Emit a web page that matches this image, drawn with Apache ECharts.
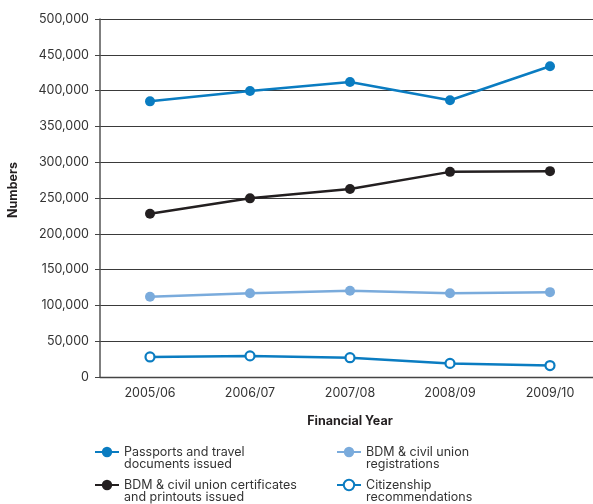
<!DOCTYPE html>
<html>
<head>
<meta charset="utf-8">
<script src="https://cdn.jsdelivr.net/npm/echarts@6/dist/echarts.min.js"></script>
<style>
html,body{margin:0;padding:0;background:#fff;}
#chart{width:593px;height:504px;}
</style>
</head>
<body>
<div id="chart"></div>
<script>
var categories = ['2005/06', '2006/07', '2007/08', '2008/09', '2009/10'];
var passports = [385000, 399500, 412000, 386500, 434000];
var bdmCertificates = [228000, 249500, 262500, 286500, 287500];
var bdmRegistrations = [112000, 117000, 120500, 117000, 118500];
var citizenship = [28000, 29500, 27000, 19000, 16000];
var yTicks = [0, 50000, 100000, 150000, 200000, 250000, 300000, 350000, 400000, 450000, 500000];

var names = {
  passports: 'Passports and travel\ndocuments issued',
  certs: 'BDM & civil union certificates\nand printouts issued',
  regs: 'BDM & civil union\nregistrations',
  cit: 'Citizenship\nrecommendations'
};
var FONT = 'Inter';
var blue = '#0a7cc1';
var light = '#7aabdc';
var black = '#231f20';

var chart = echarts.init(document.getElementById('chart'));
var legendText = {fontFamily: FONT, fontSize: 12.5, color: '#333', lineHeight: 12};
function legendAt(name, left, top) {
  return {data: [name], left: left, top: top, padding: 0, itemWidth: 24, itemHeight: 13,
          itemGap: 0, textStyle: legendText,
          formatter: function (n) { return '\n' + n; }};
}
chart.setOption({
  animation: false,
  textStyle: {fontFamily: FONT},
  grid: {left: 100, right: -7, top: 19, bottom: 127, containLabel: false, outerBoundsMode: 'none'},
  legend: [
    legendAt(names.passports, 94, 433.5),
    legendAt(names.certs, 94, 466.5),
    legendAt(names.regs, 336, 433.5),
    legendAt(names.cit, 336, 466.5)
  ],
  xAxis: {
    type: 'category',
    data: categories,
    name: 'Financial Year',
    nameLocation: 'middle',
    nameGap: 38,
    nameTextStyle: {fontFamily: FONT, fontWeight: 'bold', fontSize: 12.5, color: '#231f20'},
    axisLine: {lineStyle: {color: '#444', width: 1.3}},
    axisTick: {length: 8, lineStyle: {color: '#444', width: 1.3}},
    axisLabel: {margin: 10, fontSize: 12.5, color: '#333', fontFamily: FONT},
    splitLine: {show: false}
  },
  yAxis: {
    type: 'value',
    min: 0,
    max: 500000,
    interval: 50000,
    name: 'Numbers',
    nameLocation: 'middle',
    nameGap: 80,
    nameTextStyle: {fontFamily: FONT, fontWeight: 'bold', fontSize: 12.5, color: '#231f20', padding: [0, 0, 0, 16]},
    axisLine: {show: true, lineStyle: {color: '#555', width: 1.5}},
    axisTick: {show: true, length: 5, lineStyle: {color: '#444'}},
    axisLabel: {
      margin: 11, fontSize: 12.5, color: '#333', fontFamily: FONT,
      formatter: function (v) { return yTicks.indexOf(v) >= 0 ? v.toLocaleString('en-US') : ''; }
    },
    splitLine: {lineStyle: {color: '#3a3a3a', width: 1.2}}
  },
  series: [
    {name: names.passports, type: 'line', data: passports, symbol: 'circle', symbolSize: 10,
     itemStyle: {color: blue}, lineStyle: {color: blue, width: 2.5}},
    {name: names.certs, type: 'line', data: bdmCertificates, symbol: 'circle', symbolSize: 10,
     itemStyle: {color: black}, lineStyle: {color: black, width: 2.5}},
    {name: names.regs, type: 'line', data: bdmRegistrations, symbol: 'circle', symbolSize: 10,
     itemStyle: {color: light}, lineStyle: {color: light, width: 2.5}},
    {name: names.cit, type: 'line', data: citizenship, symbol: 'circle', symbolSize: 9,
     itemStyle: {color: '#fff', borderColor: blue, borderWidth: 2.2}, lineStyle: {color: blue, width: 2.5}}
  ]
});
</script>
</body>
</html>
